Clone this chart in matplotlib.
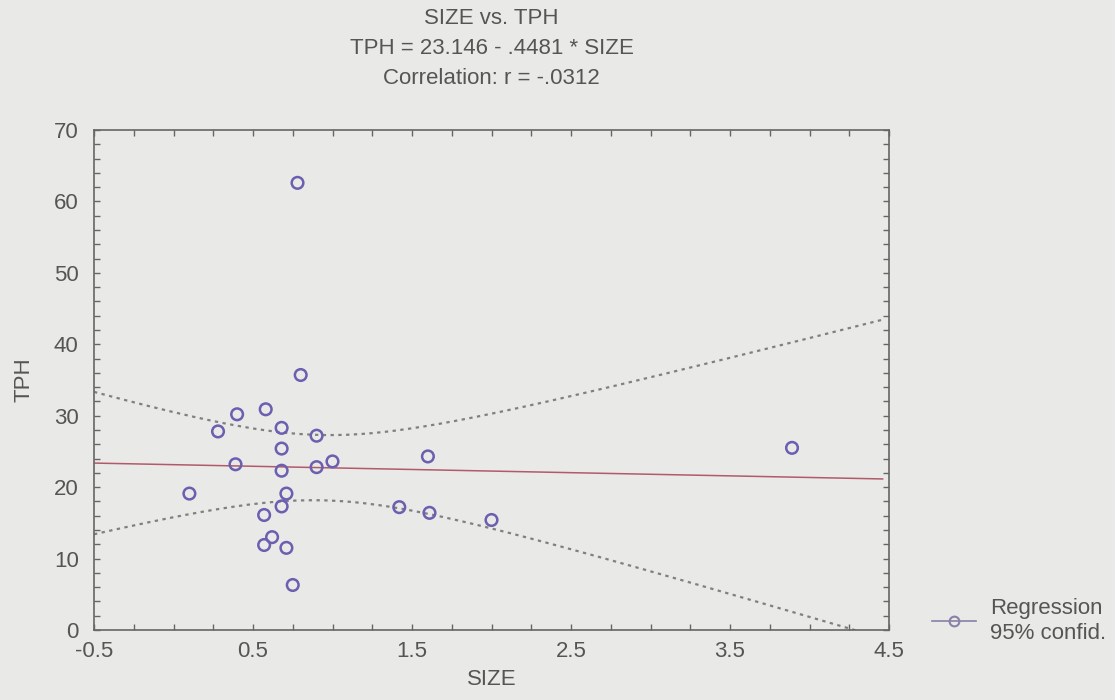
import numpy as np
import matplotlib
matplotlib.use("Agg")
import matplotlib.pyplot as plt
from matplotlib.lines import Line2D
from matplotlib.ticker import MultipleLocator

# data
SIZE = [0.10, 0.28, 0.39, 0.40, 0.57, 0.57, 0.58, 0.62, 0.68, 0.68, 0.68,
        0.68, 0.71, 0.71, 0.75, 0.78, 0.80, 0.90, 0.90, 1.00, 1.42, 1.60,
        1.61, 2.00, 3.89]
TPH = [19.1, 27.8, 23.2, 30.2, 16.1, 11.9, 30.9, 13.0, 28.3, 25.4, 22.3,
       17.3, 19.1, 11.5, 6.3, 62.6, 35.7, 27.2, 22.8, 23.6, 17.2, 24.3,
       16.4, 15.4, 25.5]

INTERCEPT = 23.146
SLOPE = -0.4481
T_CRIT = 2.069  # t(0.975, df=23)

BG = "#e9e9e7"
TEXT = "#555555"
POINT = "#6b5fb0"
REG = "#b25a6a"
BAND = "#808080"
FS = 16

plt.rcParams["font.family"] = ["Liberation Sans", "DejaVu Sans"]
plt.rcParams["axes.unicode_minus"] = False

x = np.array(SIZE)
y = np.array(TPH)
n = len(x)
resid = y - (INTERCEPT + SLOPE * x)
s = np.sqrt(np.sum(resid ** 2) / (n - 2))
xbar = x.mean()
sxx = np.sum((x - xbar) ** 2)

xs = np.linspace(-0.5, 4.46, 200)
fit = INTERCEPT + SLOPE * xs
half = T_CRIT * s * np.sqrt(1.0 / n + (xs - xbar) ** 2 / sxx)

fig = plt.figure(figsize=(11.15, 7.0), dpi=100)
fig.patch.set_facecolor(BG)
ax = fig.add_axes([94 / 1115, 70 / 700, 795 / 1115, 500 / 700])
ax.set_facecolor(BG)

ax.plot(xs, fit, color=REG, linewidth=1.1, zorder=2)
ax.plot(xs, fit + half, color=BAND, linewidth=1.6, linestyle=(0, (1.5, 2.0)), zorder=2)
ax.plot(xs, fit - half, color=BAND, linewidth=1.6, linestyle=(0, (1.5, 2.0)), zorder=2)
ax.scatter(x, y, s=70, facecolors="none", edgecolors=POINT, linewidths=1.8, zorder=3)

ax.set_xlim(-0.5, 4.5)
ax.set_ylim(0, 70)
ax.set_xticks([-0.5, 0.5, 1.5, 2.5, 3.5, 4.5])
ax.set_yticks(range(0, 71, 10))
ax.xaxis.set_minor_locator(MultipleLocator(0.25))
ax.yaxis.set_minor_locator(MultipleLocator(2))
ax.tick_params(which="both", direction="in", top=True, right=True,
               length=4, width=1, color="#666666")
ax.tick_params(which="major", labelsize=FS, labelcolor=TEXT, pad=11)
ax.tick_params(axis="x", which="major", pad=8)
for spine in ax.spines.values():
    spine.set_color("#666666")
    spine.set_linewidth(1.2)

ax.set_xlabel("SIZE", fontsize=FS, color=TEXT, labelpad=5)
ax.set_ylabel("TPH", fontsize=FS, color=TEXT, labelpad=14)

cx = (94 + 889) / 2 / 1115
fig.text(cx, 1 - 18 / 700, "SIZE vs. TPH", ha="center", va="center", fontsize=FS, color=TEXT)
fig.text(cx, 1 - 48 / 700, "TPH = 23.146 - .4481 * SIZE", ha="center", va="center",
         fontsize=FS, color=TEXT)
fig.text(cx, 1 - 78 / 700, "Correlation: r = -.0312", ha="center", va="center",
         fontsize=FS, color=TEXT)

handle = Line2D([], [], color="#8a80a8", linewidth=1.2, marker="o", markersize=7,
                markerfacecolor="none", markeredgecolor="#8a80a8", markeredgewidth=1.5)
fig.legend([handle], ["Regression\n95% confid."], loc="center left",
           bbox_to_anchor=(932 / 1115, 1 - 621 / 700), frameon=False,
           fontsize=FS, labelcolor=TEXT, handlelength=2.0, handletextpad=0.6,
           borderaxespad=0, borderpad=0)

fig.savefig("out.png", dpi=100, facecolor=fig.get_facecolor())
